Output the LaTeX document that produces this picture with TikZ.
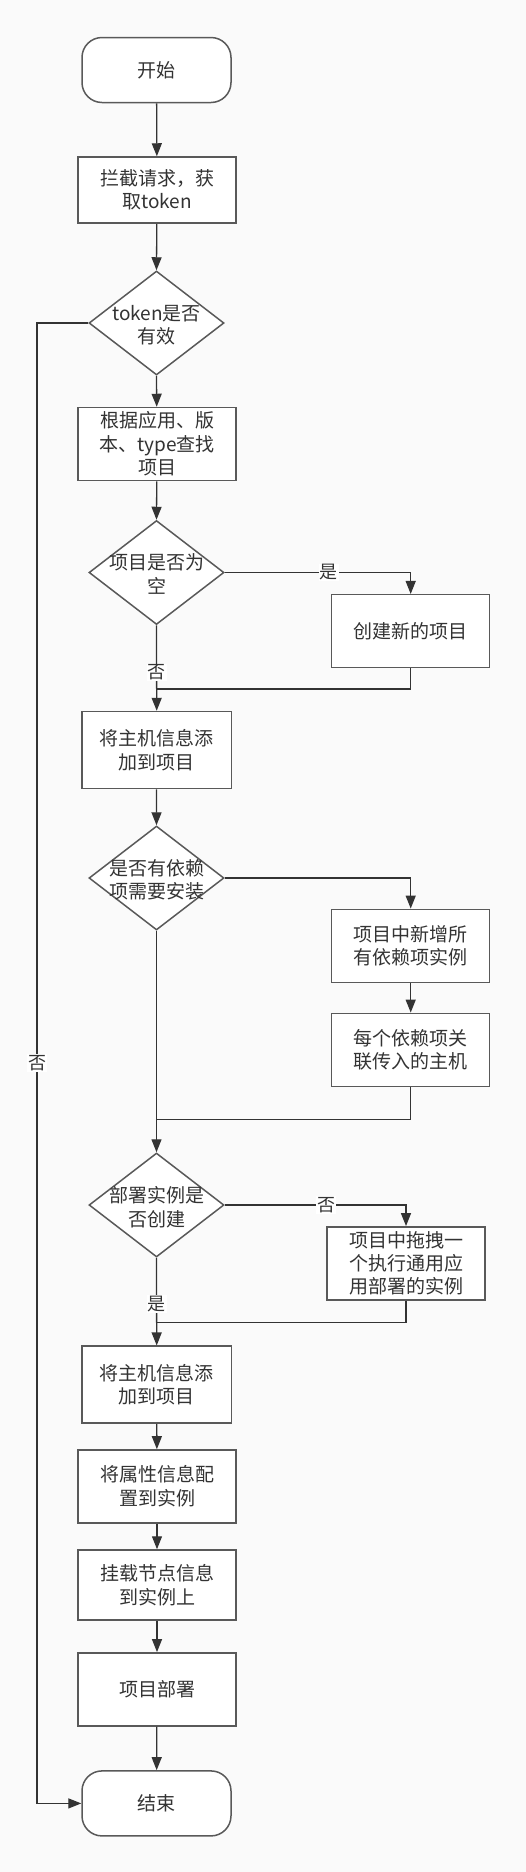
\documentclass[tikz,border=0pt]{standalone}
\usepackage{fontspec}
\setmainfont{Noto Sans CJK SC}
\usetikzlibrary{shapes.geometric,arrows.meta}
\definecolor{bgc}{HTML}{FAFAFA}
\definecolor{bordc}{HTML}{595959}
\definecolor{linec}{HTML}{333333}
\definecolor{txtc}{HTML}{333333}
\begin{document}
\begin{tikzpicture}[x=1pt,y=-1pt,
  txt/.style={font=\fontsize{19}{23.5}\selectfont, text=txtc, align=center, inner sep=0pt},
  box/.style={txt, draw=bordc, fill=white, line width=1.5pt, rectangle, minimum width=158pt, minimum height=73pt},
  term/.style={box, rounded corners=20pt, minimum width=149pt, minimum height=65pt},
  dia/.style={diamond, draw=bordc, fill=white, line width=1.5pt, minimum width=135pt, minimum height=104pt, inner sep=0pt},
  conn/.style={draw=linec, line width=1.3pt, -{Triangle[length=13pt,width=10pt]}},
  plain/.style={draw=linec, line width=1.3pt},
  lbl/.style={font=\fontsize{18}{20}\selectfont, text=txtc, fill=white, inner sep=1pt}
]
\fill[bgc] (0,0) rectangle (526,1872);
\useasboundingbox (0,0) rectangle (526,1872);

% main column
\node[term] (start) at (156.5,70) {开始};
\node[box, minimum height=66pt] (b1) at (157,190) {拦截请求，获\\取token};
\node[dia] (d1) at (156.5,323) {};
\node[txt] (d1t) at (156.5,325) {token是否\\有效};
\node[box] (b2) at (157,444) {根据应用、版\\本、type查找\\项目};
\node[dia] (d2) at (156.5,572.5) {};
\node[txt] (d2t) at (156.5,574) {项目是否为\\空};
\node[box] (b2r) at (410.7,631.2) {创建新的项目};
\node[box, minimum width=149.5pt, minimum height=77pt] (b3) at (156.7,750) {将主机信息添\\加到项目};
\node[dia] (d3) at (156.5,878) {};
\node[txt] (d3t) at (156.5,880) {是否有依赖\\项需要安装};
\node[box] (b3r1) at (410.7,945.8) {项目中新增所\\有依赖项实例};
\node[box] (b3r2) at (410.7,1049.8) {每个依赖项关\\联传入的主机};
\node[dia] (d4) at (156.5,1205) {};
\node[txt] (d4t) at (156.5,1207) {部署实例是\\否创建};
\node[box] (b4r) at (406,1263.3) {项目中拖拽一\\个执行通用应\\用部署的实例};
\node[box, minimum width=149.5pt, minimum height=77pt] (b5) at (156.7,1384.7) {将主机信息添\\加到项目};
\node[box] (b6) at (157,1486.4) {将属性信息配\\置到实例};
\node[box, minimum height=70pt] (b7) at (157,1585) {挂载节点信息\\到实例上};
\node[box] (b8) at (157,1689.3) {项目部署};
\node[term] (end) at (156.5,1803.4) {结束};

\coordinate (m1) at (156.5,689);
\coordinate (m2) at (156.5,1119.8);
\coordinate (m3) at (156.5,1322.8);
\coordinate (l1) at (37,323);
\coordinate (l2) at (37,1803.4);

% connectors
\draw[conn] (start) -- (b1);
\draw[conn] (b1) -- (d1.north);
\draw[conn] (d1.south) -- (b2);
\draw[conn] (b2) -- (d2.north);
\draw[conn] (d2.east) -| node[lbl, pos=0.28] (y1) {是} (b2r.north);
\draw[conn] (d2.south) -- node[lbl, pos=0.55] (n1) {否} (b3.north);
\draw[plain] (b2r.south) |- (m1);
\draw[conn] (b3) -- (d3.north);
\draw[conn] (d3.east) -| (b3r1.north);
\draw[conn] (b3r1) -- (b3r2);
\draw[plain] (b3r2.south) |- (m2);
\draw[conn] (d3.south) -- (d4.north);
\draw[conn] (d4.east) -| node[lbl, pos=0.28] (n2) {否} (b4r.north);
\draw[conn] (d4.south) -- node[lbl, pos=0.53] (y2) {是} (b5.north);
\draw[plain] (b4r.south) |- (m3);
\draw[conn] (b5) -- (b6);
\draw[conn] (b6) -- (b7);
\draw[conn] (b7) -- (b8);
\draw[conn] (b8) -- (end);
\draw[conn] (d1.west) -- (l1) -- node[lbl, pos=0.5] (n3) {否} (l2) -- (end.west);
\end{tikzpicture}
\end{document}
